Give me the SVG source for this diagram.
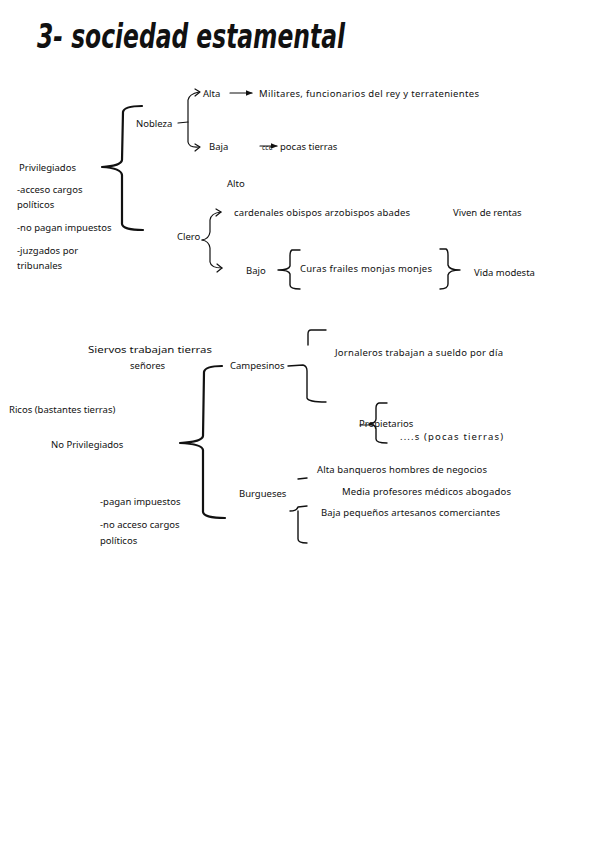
<svg xmlns="http://www.w3.org/2000/svg" width="599" height="848" viewBox="0 0 599 848">
<defs>
<style>
text{font-family:"Noto Sans","DejaVu Sans",sans-serif;font-size:9.5px;fill:#111}
.t{font-family:"DejaVu Sans",sans-serif;font-weight:bold;font-size:34px;font-style:italic}
.b{fill:none;stroke:#111;stroke-width:2.2;stroke-linecap:round;stroke-linejoin:round}
.s{fill:none;stroke:#111;stroke-width:1.2;stroke-linecap:round;stroke-linejoin:round}
</style>
<marker id="ah" viewBox="0 0 10 10" refX="9" refY="5" markerWidth="6" markerHeight="6" orient="auto"><path d="M0,1 L10,5 L0,9 z" fill="#111"/></marker>
</defs>
<rect width="599" height="848" fill="#fff"/>
<g id="title"><text class="t" x="37" y="48" textLength="308" lengthAdjust="spacingAndGlyphs">3- sociedad estamental</text></g>

<g id="connectors">
<!-- Privilegiados big brace -->
<path class="b" d="M142,106 Q124,106 123,112 L122,160 Q121,166 102,167 Q121,168 122,175 L122,224 Q123,230 143,230"/>
<!-- Nobleza brace -->
<path class="s" d="M178,123 L188,122"/>
<path class="s" d="M199,92 Q189,94 188,100 L188,142 Q189,148 199,147" />
<path class="s" d="M195,89 L200,92 L195,96 M195,144 L200,147 L195,151"/>
<path class="s" d="M230,93 L252,93" marker-end="url(#ah)"/>
<path class="s" d="M260,146 L277,146" marker-end="url(#ah)"/>
<!-- Clero brace -->
<path class="s" d="M202,240 Q209,239 210,232 L210,220 Q211,213 221,212"/>
<path class="s" d="M202,240 Q209,241 210,248 L210,262 Q211,268 222,268"/>
<path class="s" d="M216,209 L221,212 L216,216 M217,264 L222,268 L217,272"/>
<!-- Bajo braces -->
<path class="b" style="stroke-width:1.4" d="M300,250 L292,250 Q290,251 290,256 L290,266 Q289,270 278,270 Q289,270 290,274 L290,285 Q290,289 300,289"/>
<path class="b" style="stroke-width:1.4" d="M440,249 L446,249 Q448,250 448,255 L448,265 Q449,270 460,270 Q449,270 448,275 L448,284 Q448,289 440,289"/>
<!-- No Privilegiados big brace -->
<path class="b" d="M222,366 Q205,366 204,372 L203,436 Q202,442 180,443 Q202,444 203,450 L203,512 Q204,518 225,518"/>
<!-- Campesinos brace -->
<path class="s" style="stroke-width:1.4" d="M326,330 L311,330 Q308,330 308,334 L308,345"/>
<path class="s" style="stroke-width:1.4" d="M288,366 L303,365 Q307,366 307,371 L307,398 Q308,402 326,402"/>
<!-- Propietarios brace -->
<path class="s" style="stroke-width:1.4" d="M387,403 L379,403 Q376,404 376,408 L376,419 Q376,423 369,424 Q376,425 376,429 L376,439 Q376,443 387,443"/>
<path class="s" d="M360,425 L373,425"/>
<!-- Burgueses brace -->
<path class="s" style="stroke-width:1.4" d="M298,479 L307,478"/>
<path class="s" style="stroke-width:1.4" d="M290,511 Q297,511 298,507 L307,506 M298,511 L298,539 Q298,543 307,543"/>
</g>

<g id="privilegiados">
<text x="19" y="171">Privilegiados</text>
<text x="17" y="193">-acceso cargos</text>
<text x="17" y="208">políticos</text>
<text x="17" y="231">-no pagan impuestos</text>
<text x="17" y="254">-juzgados por</text>
<text x="17" y="269">tribunales</text>
</g>
<g id="nobleza">
<text x="136" y="127">Nobleza</text>
<text x="203" y="97">Alta</text>
<text x="259" y="97" textLength="220">Militares, funcionarios del rey y terratenientes</text>
<text x="209" y="150">Baja</text>
<text x="262" y="150" style="font-size:7px">cce</text>
<text x="280" y="150">pocas tierras</text>
</g>
<g id="clero">
<text x="227" y="187">Alto</text>
<text x="177" y="240">Clero</text>
<text x="234" y="216" textLength="176">cardenales obispos arzobispos abades</text>
<text x="453" y="216">Viven de rentas</text>
<text x="246" y="274">Bajo</text>
<text x="300" y="272" textLength="132">Curas frailes monjas monjes</text>
<text x="474" y="276">Vida modesta</text>
</g>
<g id="noprivilegiados">
<text x="88" y="353" textLength="124" lengthAdjust="spacingAndGlyphs">Siervos trabajan tierras</text>
<text x="130" y="369">señores</text>
<text x="9" y="413">Ricos (bastantes tierras)</text>
<text x="51" y="448">No Privilegiados</text>
<text x="100" y="505">-pagan impuestos</text>
<text x="100" y="528">-no acceso cargos</text>
<text x="100" y="544">políticos</text>
</g>
<g id="campesinos">
<text x="230" y="369">Campesinos</text>
<text x="335" y="356" textLength="168">Jornaleros trabajan a sueldo por día</text>
<text x="359" y="427">Propietarios</text>
<text x="400" y="440" textLength="103">....s (pocas tierras)</text>
</g>
<g id="burgueses">
<text x="239" y="497">Burgueses</text>
<text x="317" y="473" textLength="170">Alta banqueros hombres de negocios</text>
<text x="342" y="495" textLength="169">Media profesores médicos abogados</text>
<text x="321" y="516" textLength="179">Baja pequeños artesanos comerciantes</text>
</g>
</svg>
